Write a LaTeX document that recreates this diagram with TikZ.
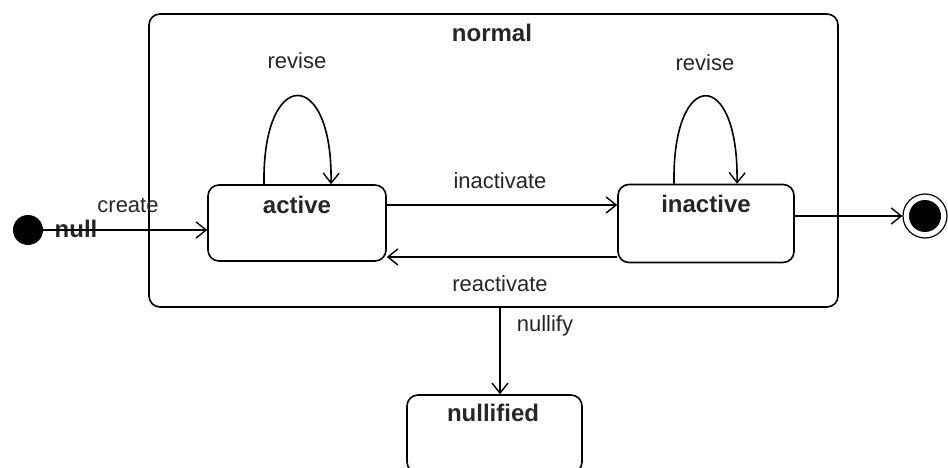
\documentclass[tikz,border=0pt]{standalone}
\usepackage{fontspec}
\setmainfont{Liberation Sans}
\usetikzlibrary{arrows.meta}
\begin{document}
\begin{tikzpicture}[x=1pt,y=-1pt,
  line width=1.6pt,
  >={Straight Barb[length=10pt,width=16pt,line width=1.4pt]},
  statebox/.style={draw,rounded corners=11pt,inner sep=0pt},
  lbl/.style={text=black!85,font=\fontsize{22}{26}\selectfont,inner sep=0pt},
  blbl/.style={text=black!85,font=\fontsize{24}{28}\selectfont\bfseries,inner sep=0pt}]
\useasboundingbox (0,0) rectangle (948,468);
\clip (0,0) rectangle (948,468);
% container
\node[statebox,minimum width=689pt,minimum height=293pt] (normal) at (493.5,160.5) {};
\node[blbl] (normaltxt) at (492,33) {normal};
% states
\node[statebox,minimum width=178pt,minimum height=76pt] (active) at (297,223) {};
\node[blbl] (activetxt) at (297,205) {active};
\node[statebox,minimum width=176pt,minimum height=78pt] (inactive) at (706,223.5) {};
\node[blbl] (inactivetxt) at (706,204) {inactive};
\node[statebox,minimum width=175pt,minimum height=78pt] (nullified) at (494.5,434) {};
\node[blbl] (nullifiedtxt) at (493,413) {nullified};
% initial and final
\node[circle,fill=black,minimum size=30pt,inner sep=0pt] (init) at (28,230) {};
\node[blbl] (nulltxt) at (76,229) {null};
\node[circle,draw,line width=1.2pt,minimum size=44pt,inner sep=0pt] (final) at (925,216) {};
\node[circle,fill=black,minimum size=32pt,inner sep=0pt] (finalin) at (925,216) {};
% transitions
\draw[->] (init.center) -- (init.center -| active.west);
\node[lbl] (createtxt) at (128,205) {create};
\draw[->] ([yshift=18pt]active.east) -- ([yshift=18pt]active.east -| inactive.west);
\node[lbl] (inacttxt) at (500,181) {inactivate};
\draw[->] ([yshift=-33.5pt]inactive.west) -- ([yshift=-33.5pt]inactive.west -| active.east);
\node[lbl] (reacttxt) at (500,284) {reactivate};
\draw[->] ([yshift=7.5pt]inactive.east) -- ([yshift=7.5pt]inactive.east -| final.west);
\draw[->] ([xshift=6.5pt]normal.south) -- ([xshift=6.5pt]normal.south |- nullified.north);
\node[lbl] (nullifytxt) at (545,326) {nullify};
% self loops
\draw[->] ([xshift=-33pt]active.north) .. controls +(-2,-118) and +(2,-118) .. ([xshift=34pt]active.north);
\node[lbl] (revise1) at (297,61) {revise};
\draw[->] ([xshift=-32pt]inactive.north) .. controls +(-2,-117) and +(2,-117) .. ([xshift=31pt]inactive.north);
\node[lbl] (revise2) at (705,63) {revise};
\end{tikzpicture}
\end{document}
